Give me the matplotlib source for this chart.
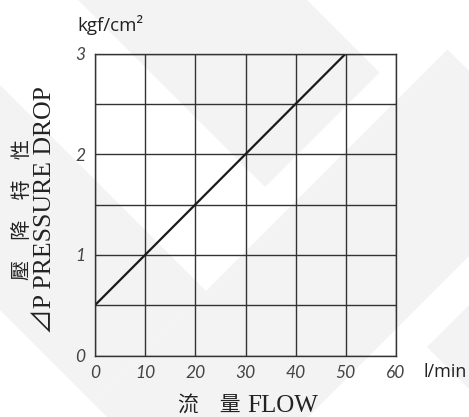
import matplotlib
matplotlib.use("Agg")
import matplotlib.pyplot as plt
from matplotlib.patches import Polygon

# pressure drop line
flow = [0, 50]
pressure = [0.5, 3.0]

x_ticks = [0, 10, 20, 30, 40, 50, 60]
y_ticks = [0, 1, 2, 3]
y_minor = [0.5, 1.5, 2.5]

# light watermark bands behind the chart (u = x+y, v = x-y in pixels)
bands = [
    (-300, 452, 78, 307),
    (-300, 497, -310, -85),
    (497, 725, -310, 398),
    (774, 1300, 80, 700),
]

W, H = 469, 417
fig = plt.figure(figsize=(W / 100, H / 100), dpi=100)

bg = fig.add_axes([0, 0, 1, 1], zorder=0)
bg.set_xlim(0, W)
bg.set_ylim(H, 0)
bg.axis("off")
for u0, u1, v0, v1 in bands:
    pts = [((u + v) / 2, (u - v) / 2) for u, v in [(u0, v0), (u0, v1), (u1, v1), (u1, v0)]]
    bg.add_patch(Polygon(pts, closed=True, fc="#f3f3f3", ec="none"))

ax = fig.add_axes([95 / W, 1 - 355.5 / H, 301 / W, 302 / H], zorder=1)
ax.set_facecolor("none")
ax.plot(flow, pressure, color="#1a1a1a", linewidth=1.6, solid_capstyle="butt")
ax.set_xlim(0, 60)
ax.set_ylim(0, 3)
ax.set_xticks(x_ticks)
ax.set_yticks(y_ticks)
ax.set_yticks(y_minor, minor=True)
ax.grid(which="both", color="#333333", linewidth=1.0)
ax.set_axisbelow(True)
for s in ax.spines.values():
    s.set_color("#333333")
    s.set_linewidth(1.0)
ax.tick_params(which="both", length=0)
ax.tick_params(axis="y", pad=7)
ax.tick_params(axis="x", pad=7)
for lab in ax.get_xticklabels() + ax.get_yticklabels():
    lab.set_fontfamily("Lato")
    lab.set_fontstyle("italic")
    lab.set_fontsize(12.5)
    lab.set_color("#444444")

fig.text(77 / W, 1 - 25 / H, "kgf/cm²", ha="left", va="center",
         family="Open Sans", fontsize=13.5, color="#222222")
fig.text(423 / W, 1 - 372 / H, "l/min", ha="left", va="center",
         family="Open Sans", fontsize=13, color="#222222")

fig.text(45 / W, 1 - 210 / H, "⊿P PRESSURE DROP", rotation=90, ha="center", va="center",
         family=["Liberation Serif", "Noto Sans CJK TC", "DejaVu Sans"], fontsize=18.5, color="#222222")
fig.text(22 / W, 1 - 210 / H, "壓　降　特　性", rotation=90, ha="center", va="center",
         family=["Noto Sans CJK TC", "DejaVu Sans"], fontsize=14.5, color="#222222")

fig.text(241 / W, 1 - 406 / H, "流　量", ha="right", va="center",
         family=["Noto Sans CJK TC", "DejaVu Sans"], fontsize=15, color="#222222")
fig.text(247 / W, 1 - 406 / H, "FLOW", ha="left", va="center",
         family="Liberation Serif", fontsize=18, color="#222222")

fig.savefig("out.png", dpi=100)
